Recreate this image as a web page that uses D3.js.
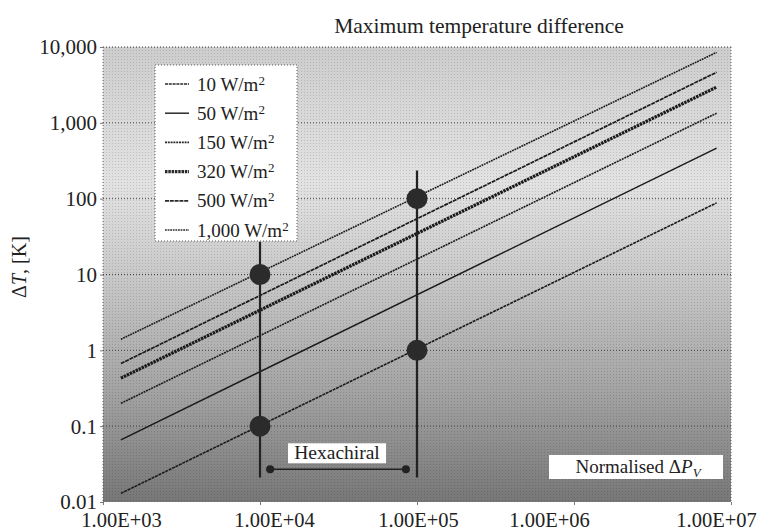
<!DOCTYPE html>
<html>
<head>
<meta charset="utf-8">
<script src="https://cdn.jsdelivr.net/npm/d3@7"></script>
<style>
  body { margin: 0; background: #fff; }
  text { font-family: "Liberation Serif", "DejaVu Serif", serif; fill: #222; }
</style>
</head>
<body>
<div id="chart"></div>
<script>
// heat flux of each line, W/m2
var fluxes = [10, 50, 150, 320, 500, 1000];
var fluxLabels = ["10", "50", "150", "320", "500", "1,000"];
// each line read from its two ends
var pvStart = [1300, 1300, 1300, 1300, 1300, 1300];
var pvEnd = [8.1e6, 8.1e6, 8.1e6, 8.1e6, 8.1e6, 8.1e6];
var dtStart = [0.013, 0.066, 0.20, 0.43, 0.67, 1.4];
var dtEnd = [88, 465, 1340, 2960, 4650, 8500];

// marked points and the guide lines through them
var markPV = [1e4, 1e4, 1e5, 1e5];
var markDT = [0.1, 10, 1, 100];
var guidePV = [1e4, 1e5];
var guideLow = [0.021, 0.021];
var guideHigh = [27, 235];
var arrowPV = [1.16e4, 8.5e4];
var arrowDT = 0.027;

var xTicks = [1e3, 1e4, 1e5, 1e6, 1e7];
var xTickLabels = ["1.00E+03", "1.00E+04", "1.00E+05", "1.00E+06", "1.00E+07"];
var yTicks = [0.01, 0.1, 1, 10, 100, 1000, 10000];
var yTickLabels = ["0.01", "0.1", "1", "10", "100", "1,000", "10,000"];

var W = 760, H = 530;
var margin = {top: 47, right: 29, bottom: 28, left: 103};
var width = W - margin.left - margin.right,
    height = H - margin.top - margin.bottom;

var svg = d3.select("#chart").append("svg")
    .attr("width", W)
    .attr("height", H);

var defs = svg.append("defs");
var grad = defs.append("linearGradient")
    .attr("id", "bg")
    .attr("x1", 0).attr("y1", 0).attr("x2", 0).attr("y2", 1);
[[0, "#cdcdcd"], [0.12, "#d6d6d6"], [0.3, "#e2e2e2"], [0.5, "#c9c9c9"], [0.75, "#a4a4a4"], [1, "#777"]]
    .forEach(function (s) {
        grad.append("stop").attr("offset", s[0]).attr("stop-color", s[1]);
    });
var pat = defs.append("pattern")
    .attr("id", "dots")
    .attr("width", 3).attr("height", 3)
    .attr("patternUnits", "userSpaceOnUse");
pat.append("rect").attr("width", 1).attr("height", 1).attr("fill", "#000").attr("opacity", 0.14);

var g = svg.append("g")
    .attr("transform", "translate(" + margin.left + "," + margin.top + ")");

var x = d3.scaleLog().domain([1e3, 1e7]).range([0, width]);
var y = d3.scaleLog().domain([0.01, 1e4]).range([height, 0]);

g.append("rect")
    .attr("width", width).attr("height", height)
    .style("fill", "url(#bg)");
g.append("rect")
    .attr("width", width).attr("height", height)
    .style("fill", "url(#dots)");

// dotted grid and frame
g.selectAll(".grid")
    .data(yTicks.slice(1))
    .enter().append("line")
    .attr("class", "grid")
    .attr("x1", 0).attr("x2", width)
    .attr("y1", function (d) { return y(d); })
    .attr("y2", function (d) { return y(d); })
    .style("stroke", "#444")
    .style("stroke-width", 1)
    .style("stroke-dasharray", "1,2");
[[0, 0, 0, height], [width, 0, width, height]].forEach(function (l) {
    g.append("line")
        .attr("x1", l[0]).attr("y1", l[1]).attr("x2", l[2]).attr("y2", l[3])
        .style("stroke", "#666")
        .style("stroke-dasharray", "1,2");
});

// axes
var yAxis = d3.axisLeft(y)
    .tickValues(yTicks)
    .tickSize(3)
    .tickFormat(function (d, i) { return yTickLabels[i]; });
var ya = g.append("g").call(yAxis);
ya.select(".domain").remove();
ya.selectAll("line").style("stroke", "#777");
ya.selectAll("text")
    .attr("x", -6)
    .attr("dy", "0.33em")
    .style("font-family", "'Liberation Serif', serif")
    .style("font-size", "21px")
    .style("fill", "#222");

// the printed labels sit a little off their ticks
var xLabelShift = [18, 14, 1, -25, -15];
var xAxis = d3.axisBottom(x)
    .tickValues(xTicks)
    .tickSize(3)
    .tickFormat(function (d, i) { return xTickLabels[i]; });
var xa = g.append("g")
    .attr("transform", "translate(0," + height + ")")
    .call(xAxis);
xa.select(".domain").remove();
xa.selectAll("line").style("stroke", "#777");
xa.selectAll("text")
    .attr("x", function (d, i) { return xLabelShift[i]; })
    .attr("y", 25)
    .attr("dy", 0)
    .style("font-family", "'Liberation Serif', serif")
    .style("font-size", "20.5px")
    .style("fill", "#222");

// series lines
var dashes = ["3,0.8", null, "2,0.8", "2.5,0.8", "4,0.8", "1.8,0.8"];
var widths = [1.6, 1.5, 1.6, 3.2, 1.7, 1.6];
var series = fluxes.map(function (f, i) {
    return {flux: f, pts: [[pvStart[i], dtStart[i]], [pvEnd[i], dtEnd[i]]]};
});
var line = d3.line()
    .x(function (d) { return x(d[0]); })
    .y(function (d) { return y(d[1]); });
g.selectAll(".series")
    .data(series)
    .enter().append("path")
    .attr("class", "series")
    .attr("d", function (d) { return line(d.pts); })
    .style("fill", "none")
    .style("stroke", "#1a1a1a")
    .style("stroke-width", function (d, i) { return widths[i]; })
    .style("stroke-dasharray", function (d, i) { return dashes[i]; });

// guide lines and markers
g.selectAll(".guide")
    .data(guidePV)
    .enter().append("line")
    .attr("class", "guide")
    .attr("x1", function (d) { return x(d); })
    .attr("x2", function (d) { return x(d); })
    .attr("y1", function (d, i) { return y(guideLow[i]); })
    .attr("y2", function (d, i) { return y(guideHigh[i]); })
    .style("stroke", "#222")
    .style("stroke-width", 2.2);

g.selectAll(".mark")
    .data(markPV)
    .enter().append("circle")
    .attr("class", "mark")
    .attr("cx", function (d) { return x(d); })
    .attr("cy", function (d, i) { return y(markDT[i]); })
    .attr("r", 10.5)
    .style("fill", "#2b2b2b");

// hexachiral range
g.append("line")
    .attr("x1", x(arrowPV[0])).attr("x2", x(arrowPV[1]))
    .attr("y1", y(arrowDT)).attr("y2", y(arrowDT))
    .style("stroke", "#222")
    .style("stroke-width", 1.6);
g.selectAll(".aend")
    .data(arrowPV)
    .enter().append("circle")
    .attr("class", "aend")
    .attr("cx", function (d) { return x(d); })
    .attr("cy", y(arrowDT))
    .attr("r", 4)
    .style("fill", "#222");
var hx = (x(arrowPV[0]) + x(arrowPV[1])) / 2;
g.append("rect")
    .attr("x", hx - 50).attr("y", y(arrowDT) - 26)
    .attr("width", 98).attr("height", 20)
    .style("fill", "#fff");
g.append("text")
    .attr("x", hx - 1).attr("y", y(arrowDT) - 10)
    .attr("text-anchor", "middle")
    .style("font-size", "19.5px")
    .text("Hexachiral");

// axis titles
g.append("rect")
    .attr("x", width - 182).attr("y", height - 47)
    .attr("width", 174).attr("height", 24)
    .style("fill", "#fff");
var xt = g.append("text")
    .attr("x", width - 93).attr("y", height - 29)
    .attr("text-anchor", "middle")
    .style("font-size", "19px");
xt.append("tspan").text("Normalised \u0394");
xt.append("tspan").style("font-style", "italic").text("P");
xt.append("tspan").style("font-style", "italic").style("font-size", "13px").attr("dy", 4).text("V");

var yt = svg.append("text")
    .attr("transform", "translate(26,267) rotate(-90)")
    .attr("text-anchor", "middle")
    .style("font-size", "20px");
yt.append("tspan").text("\u0394");
yt.append("tspan").style("font-style", "italic").text("T");
yt.append("tspan").text(", [K]");

svg.append("text")
    .attr("x", 479).attr("y", 33)
    .attr("text-anchor", "middle")
    .style("font-size", "21.5px")
    .text("Maximum temperature difference");

// legend
var legend = svg.append("g")
    .attr("transform", "translate(155,65)");
legend.append("rect")
    .attr("width", 142).attr("height", 176)
    .style("fill", "#fff")
    .style("stroke", "#555")
    .style("stroke-dasharray", "1,2");
var items = legend.selectAll(".legend")
    .data(fluxes)
    .enter().append("g")
    .attr("class", "legend")
    .attr("transform", function (d, i) { return "translate(0," + (19 + i * 29.2) + ")"; });
items.append("line")
    .attr("x1", 10).attr("x2", 34)
    .style("stroke", "#2a2a2a")
    .style("stroke-width", function (d, i) { return widths[i]; })
    .style("stroke-dasharray", function (d, i) { return dashes[i]; });
var lt = items.append("text")
    .attr("x", 42).attr("dy", "0.35em")
    .style("font-size", "19px");
lt.append("tspan").text(function (d, i) { return fluxLabels[i] + " W/m"; });
lt.append("tspan").attr("dy", -6).style("font-size", "13px").text("2");
</script>
</body>
</html>
